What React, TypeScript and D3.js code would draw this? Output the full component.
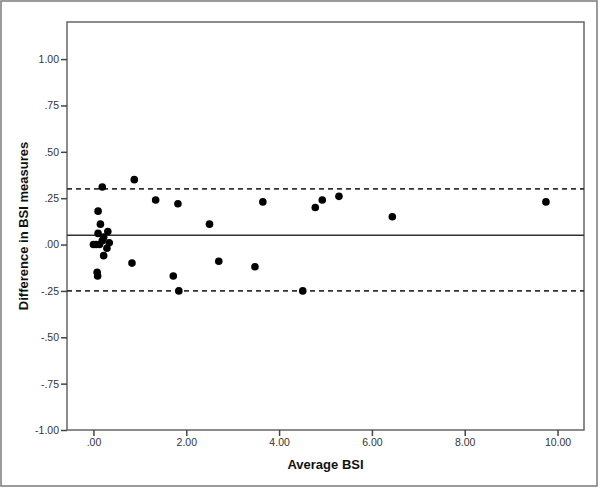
import React, { useEffect, useRef } from 'react';
import * as d3 from 'd3';

// average of the two BSI measures (x) and their difference (y)
const averageBSI = [
  0.0, 0.06, 0.13, 0.19, 0.34, 0.29, 0.22, 0.22, 0.1, 0.31, 0.15, 0.1, 0.19, 0.08, 0.09,
  0.83, 0.88, 1.34, 1.72, 1.82, 1.84, 2.5, 2.7, 3.48, 3.65, 4.51, 4.78, 4.93, 5.29, 6.44, 9.75,
];
const differenceBSI = [
  0.0, 0.0, 0.0, 0.02, 0.01, -0.02, -0.06, 0.04, 0.06, 0.07, 0.11, 0.18, 0.31, -0.15, -0.17,
  -0.1, 0.35, 0.24, -0.17, 0.22, -0.25, 0.11, -0.09, -0.12, 0.23, -0.25, 0.2, 0.24, 0.26, 0.15, 0.23,
];

// mean difference and limits of agreement
const meanDiff = 0.05;
const limits = [0.3, -0.25];

const xTicks = [0, 2, 4, 6, 8, 10];
const yTicks = [1, 0.75, 0.5, 0.25, 0, -0.25, -0.5, -0.75, -1];

const fmt = (v: number) => {
  const s = v.toFixed(2);
  return s.replace(/^(-?)0\./, '$1.');
};

const W = 600;
const H = 488;

export default function App() {
  const ref = useRef<SVGSVGElement>(null);

  useEffect(() => {
    const svg = d3.select(ref.current);
    svg.selectAll('*').remove();

    const plot = { left: 67, right: 584, top: 22, bottom: 430 };

    const x = d3.scaleLinear().domain([-0.57, 10.57]).range([plot.left, plot.right]);
    const y = d3.scaleLinear().domain([-1, 1.2]).range([plot.bottom, plot.top]);

    // outer border
    svg
      .append('rect')
      .attr('x', 1)
      .attr('y', 1)
      .attr('width', 596)
      .attr('height', 485)
      .attr('fill', 'white')
      .attr('stroke', '#7a7a7a')
      .attr('stroke-width', 1.5);

    // plot frame
    svg
      .append('rect')
      .attr('x', plot.left)
      .attr('y', plot.top)
      .attr('width', plot.right - plot.left)
      .attr('height', plot.bottom - plot.top)
      .attr('fill', 'none')
      .attr('stroke', '#666')
      .attr('stroke-width', 1.5);

    // y axis
    const yAxis = svg
      .append('g')
      .attr('transform', `translate(${plot.left},0)`)
      .call(d3.axisLeft(y).tickValues(yTicks).tickSize(6).tickFormat((d) => fmt(+d)));
    yAxis.select('.domain').remove();
    yAxis.selectAll('line').attr('stroke', '#444').attr('stroke-width', 1.5);
    yAxis
      .selectAll('text')
      .attr('x', -8)
      .attr('fill', '#333')
      .style('font-family', 'Liberation Sans, Arial, sans-serif')
      .style('font-size', '10.5px');

    // x axis
    const xAxis = svg
      .append('g')
      .attr('transform', `translate(0,${plot.bottom})`)
      .call(d3.axisBottom(x).tickValues(xTicks).tickSize(6).tickFormat((d) => fmt(+d)));
    xAxis.select('.domain').remove();
    xAxis.selectAll('line').attr('stroke', '#444').attr('stroke-width', 1.5);
    xAxis
      .selectAll('text')
      .attr('y', 9)
      .attr('fill', '#333')
      .style('font-family', 'Liberation Sans, Arial, sans-serif')
      .style('font-size', '10.5px');

    // axis titles
    svg
      .append('text')
      .attr('x', (plot.left + plot.right) / 2)
      .attr('y', 469)
      .attr('text-anchor', 'middle')
      .style('font-family', 'Liberation Sans, Arial, sans-serif')
      .style('font-size', '13px')
      .style('font-weight', 'bold')
      .attr('fill', '#111')
      .text('Average BSI');

    svg
      .append('text')
      .attr('transform', `translate(28,${(plot.top + plot.bottom) / 2}) rotate(-90)`)
      .attr('text-anchor', 'middle')
      .style('font-family', 'Liberation Sans, Arial, sans-serif')
      .style('font-size', '13px')
      .style('font-weight', 'bold')
      .attr('fill', '#111')
      .text('Difference in BSI measures');

    // limits of agreement (dashed) and mean difference (solid)
    svg
      .append('g')
      .selectAll('line')
      .data(limits)
      .enter()
      .append('line')
      .attr('x1', plot.left)
      .attr('x2', plot.right)
      .attr('y1', (d) => y(d))
      .attr('y2', (d) => y(d))
      .attr('stroke', '#333')
      .attr('stroke-width', 1.6)
      .attr('stroke-dasharray', '5,4');

    svg
      .append('line')
      .attr('x1', plot.left)
      .attr('x2', plot.right)
      .attr('y1', y(meanDiff))
      .attr('y2', y(meanDiff))
      .attr('stroke', '#333')
      .attr('stroke-width', 1.6);

    // points
    svg
      .append('g')
      .selectAll('circle')
      .data(averageBSI)
      .enter()
      .append('circle')
      .attr('cx', (d) => x(d))
      .attr('cy', (d, i) => y(differenceBSI[i]))
      .attr('r', 3.8)
      .attr('fill', '#000');
  }, []);

  return (
    <svg
      ref={ref}
      width={W}
      height={H}
      style={{ position: 'absolute', left: 0, top: 0, display: 'block' }}
    />
  );
}
